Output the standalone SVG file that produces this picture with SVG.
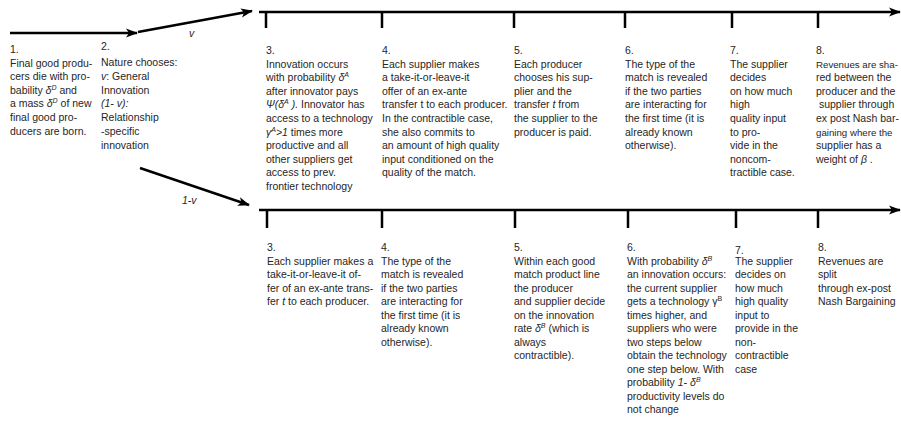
<svg xmlns="http://www.w3.org/2000/svg" width="901" height="426" viewBox="0 0 901 426">
<defs>
<marker id="arr" viewBox="0 0 12 10" refX="11" refY="5" markerWidth="12" markerHeight="10" markerUnits="userSpaceOnUse" orient="auto">
<path d="M0,0.5 L12,5 L0,9.5 L3,5 z" fill="#000"/>
</marker>
<style>
.ln{stroke:#000;stroke-width:2.5;fill:none}
.tk{stroke:#000;stroke-width:2.5}
text{font-family:"Liberation Sans",Arial,sans-serif;font-size:10.5px;fill:#262626}
.i{font-style:italic}
.sup{font-size:7px}
.nar{font-size:9.7px}
</style>
</defs>
<rect width="901" height="426" fill="#fff"/>
<g id="connectors">
<line class="ln" x1="10" y1="33" x2="137" y2="33" marker-end="url(#arr)"/>
<line class="ln" x1="138" y1="32" x2="252" y2="11" marker-end="url(#arr)"/>
<line class="ln" x1="140" y1="168" x2="249" y2="205" marker-end="url(#arr)"/>
<line class="ln" x1="259" y1="12" x2="900" y2="12" marker-end="url(#arr)"/>
<line class="ln" x1="259" y1="210" x2="900" y2="210" marker-end="url(#arr)"/>
<g id="ticks-top">
<line class="tk" x1="266" y1="12" x2="266" y2="28"/>
<line class="tk" x1="382" y1="12" x2="382" y2="28"/>
<line class="tk" x1="514" y1="12" x2="514" y2="28"/>
<line class="tk" x1="625" y1="12" x2="625" y2="28"/>
<line class="tk" x1="732" y1="12" x2="732" y2="28"/>
<line class="tk" x1="818" y1="12" x2="818" y2="28"/>
</g>
<g id="ticks-bottom">
<line class="tk" x1="267" y1="210" x2="267" y2="228"/>
<line class="tk" x1="382" y1="210" x2="382" y2="228"/>
<line class="tk" x1="515" y1="210" x2="515" y2="228"/>
<line class="tk" x1="628" y1="210" x2="628" y2="228"/>
<line class="tk" x1="736" y1="210" x2="736" y2="228"/>
<line class="tk" x1="818" y1="210" x2="818" y2="228"/>
</g>
<text class="i" x="189" y="37">v</text>
<text class="i" x="182" y="204">1-v</text>
</g>

<g id="step1">
<text x="10" y="53"><tspan x="10">1.</tspan><tspan x="10" dy="13.6">Final good produ-</tspan><tspan x="10" dy="13.6">cers die with pro-</tspan><tspan x="10" dy="13.6">bability <tspan class="i">δ</tspan><tspan class="sup i" dy="-4">D</tspan><tspan dy="4"> and</tspan></tspan><tspan x="10" dy="13.6">a mass <tspan class="i">δ</tspan><tspan class="sup i" dy="-4">D</tspan><tspan dy="4"> of new</tspan></tspan><tspan x="10" dy="13.6">final good pro-</tspan><tspan x="10" dy="13.6">ducers are born.</tspan></text>
</g>
<g id="step2">
<text x="101" y="50"><tspan x="101">2.</tspan><tspan x="101" dy="16">Nature chooses:</tspan><tspan x="101" dy="13.8"><tspan class="i">v</tspan>: General</tspan><tspan x="101" dy="13.8">Innovation</tspan><tspan x="101" dy="13.8" class="i">(1- v):</tspan><tspan x="101" dy="13.8">Relationship</tspan><tspan x="101" dy="13.8">-specific</tspan><tspan x="101" dy="13.8">innovation</tspan></text>
</g>

<g id="top-step3">
<text x="266" y="54"><tspan x="266">3.</tspan><tspan x="266" dy="13.6">Innovation occurs</tspan><tspan x="266" dy="13.6">with probability <tspan class="i">δ</tspan><tspan class="sup i" dy="-4">A</tspan></tspan><tspan x="266" dy="17.6">after innovator pays</tspan><tspan x="266" dy="13.6"><tspan class="i">Ψ(δ</tspan><tspan class="sup i" dy="-4">A</tspan><tspan class="i" dy="4"> ).</tspan> Innovator has</tspan><tspan x="266" dy="13.6">access to a technology</tspan><tspan x="266" dy="13.6"><tspan class="i">γ</tspan><tspan class="sup i" dy="-4">A</tspan><tspan class="i" dy="4">&gt;1</tspan> times more</tspan><tspan x="266" dy="13.6">productive and all</tspan><tspan x="266" dy="13.6">other suppliers get</tspan><tspan x="266" dy="13.6">access to prev.</tspan><tspan x="266" dy="13.6">frontier technology</tspan></text>
</g>
<g id="top-step4">
<text x="382" y="54"><tspan x="382">4.</tspan><tspan x="382" dy="13.6">Each supplier makes</tspan><tspan x="382" dy="13.6">a take-it-or-leave-it</tspan><tspan x="382" dy="13.6">offer of an ex-ante</tspan><tspan x="382" dy="13.6">transfer t to each producer.</tspan><tspan x="382" dy="13.6">In the contractible case,</tspan><tspan x="382" dy="13.6">she also commits to</tspan><tspan x="382" dy="13.6">an amount of high quality</tspan><tspan x="382" dy="13.6">input conditioned on the</tspan><tspan x="382" dy="13.6">quality of the match.</tspan></text>
</g>
<g id="top-step5">
<text x="514" y="54"><tspan x="514">5.</tspan><tspan x="514" dy="13.6">Each producer</tspan><tspan x="514" dy="13.6">chooses  his sup-</tspan><tspan x="514" dy="13.6">plier and the</tspan><tspan x="514" dy="13.6">transfer <tspan class="i">t</tspan> from</tspan><tspan x="514" dy="13.6">the supplier to the</tspan><tspan x="514" dy="13.6">producer is paid.</tspan></text>
</g>
<g id="top-step6">
<text x="625" y="54"><tspan x="625">6.</tspan><tspan x="625" dy="13.6">The type of the</tspan><tspan x="625" dy="13.6">match is revealed</tspan><tspan x="625" dy="13.6">if the two parties</tspan><tspan x="625" dy="13.6">are interacting for</tspan><tspan x="625" dy="13.6">the first time (it is</tspan><tspan x="625" dy="13.6">already known</tspan><tspan x="625" dy="13.6">otherwise).</tspan></text>
</g>
<g id="top-step7">
<text x="730" y="54"><tspan x="730">7.</tspan><tspan x="730" dy="13.6">The supplier</tspan><tspan x="730" dy="13.6">decides</tspan><tspan x="730" dy="13.6">on how much</tspan><tspan x="730" dy="13.6">high</tspan><tspan x="730" dy="13.6">quality input</tspan><tspan x="730" dy="13.6">to pro-</tspan><tspan x="730" dy="13.6">vide in the</tspan><tspan x="730" dy="13.6">noncom-</tspan><tspan x="730" dy="13.6">tractible case.</tspan></text>
</g>
<g id="top-step8">
<text x="816" y="54"><tspan x="816">8.</tspan><tspan x="816" dy="13.6" class="nar">Revenues are sha-</tspan><tspan x="816" dy="13.6">red between the</tspan><tspan x="816" dy="13.6">producer and the</tspan><tspan x="816" dy="13.6"> supplier through</tspan><tspan x="816" dy="13.6">ex post Nash bar-</tspan><tspan x="816" dy="13.6" class="nar">gaining where the</tspan><tspan x="816" dy="13.6">supplier has a</tspan><tspan x="816" dy="13.6">weight of <tspan class="i">β</tspan> .</tspan></text>
</g>

<g id="bottom-step3">
<text x="267" y="251"><tspan x="267">3.</tspan><tspan x="267" dy="13.5">Each supplier makes a</tspan><tspan x="267" dy="13.5">take-it-or-leave-it of-</tspan><tspan x="267" dy="13.5">fer of an ex-ante trans-</tspan><tspan x="267" dy="13.5">fer <tspan class="i">t</tspan> to each producer.</tspan></text>
</g>
<g id="bottom-step4">
<text x="381" y="251"><tspan x="381">4.</tspan><tspan x="381" dy="13.5">The type of the</tspan><tspan x="381" dy="13.5">match is revealed</tspan><tspan x="381" dy="13.5">if the two parties</tspan><tspan x="381" dy="13.5">are interacting for</tspan><tspan x="381" dy="13.5">the first time (it is</tspan><tspan x="381" dy="13.5">already known</tspan><tspan x="381" dy="13.5">otherwise).</tspan></text>
</g>
<g id="bottom-step5">
<text x="514" y="251"><tspan x="514">5.</tspan><tspan x="514" dy="13.5">Within each good</tspan><tspan x="514" dy="13.5">match product line</tspan><tspan x="514" dy="13.5">the producer</tspan><tspan x="514" dy="13.5">and supplier decide</tspan><tspan x="514" dy="13.5">on the innovation</tspan><tspan x="514" dy="13.5">rate <tspan class="i">δ</tspan><tspan class="sup i" dy="-4">B</tspan><tspan dy="4"> (which is</tspan></tspan><tspan x="514" dy="13.5">always</tspan><tspan x="514" dy="13.5">contractible).</tspan></text>
</g>
<g id="bottom-step6">
<text x="627" y="251"><tspan x="627">6.</tspan><tspan x="627" dy="13.5">With probability <tspan class="i">δ</tspan><tspan class="sup i" dy="-4">B</tspan></tspan><tspan x="627" dy="17.5">an innovation occurs:</tspan><tspan x="627" dy="13.5">the current supplier</tspan><tspan x="627" dy="13.5">gets a technology γ<tspan class="sup" dy="-4">B</tspan></tspan><tspan x="627" dy="17.5">times higher, and</tspan><tspan x="627" dy="13.5">suppliers who were</tspan><tspan x="627" dy="13.5">two steps below</tspan><tspan x="627" dy="13.5">obtain the technology</tspan><tspan x="627" dy="13.5">one step below. With</tspan><tspan x="627" dy="13.5">probability <tspan class="i">1- δ</tspan><tspan class="sup i" dy="-4">B</tspan></tspan><tspan x="627" dy="17.5">productivity levels do</tspan><tspan x="627" dy="13.5">not change</tspan></text>
</g>
<g id="bottom-step7">
<text x="735" y="254"><tspan x="735">7.</tspan><tspan x="735" dy="10.5">The supplier</tspan><tspan x="735" dy="13.5">decides on</tspan><tspan x="735" dy="13.5">how much</tspan><tspan x="735" dy="13.5">high quality</tspan><tspan x="735" dy="13.5">input to</tspan><tspan x="735" dy="13.5">provide in the</tspan><tspan x="735" dy="13.5">non-</tspan><tspan x="735" dy="13.5">contractible</tspan><tspan x="735" dy="13.5">case</tspan></text>
</g>
<g id="bottom-step8">
<text x="818" y="251"><tspan x="818">8.</tspan><tspan x="818" dy="13.5">Revenues are</tspan><tspan x="818" dy="13.5">split</tspan><tspan x="818" dy="13.5">through ex-post</tspan><tspan x="818" dy="13.5">Nash Bargaining</tspan></text>
</g>
</svg>
